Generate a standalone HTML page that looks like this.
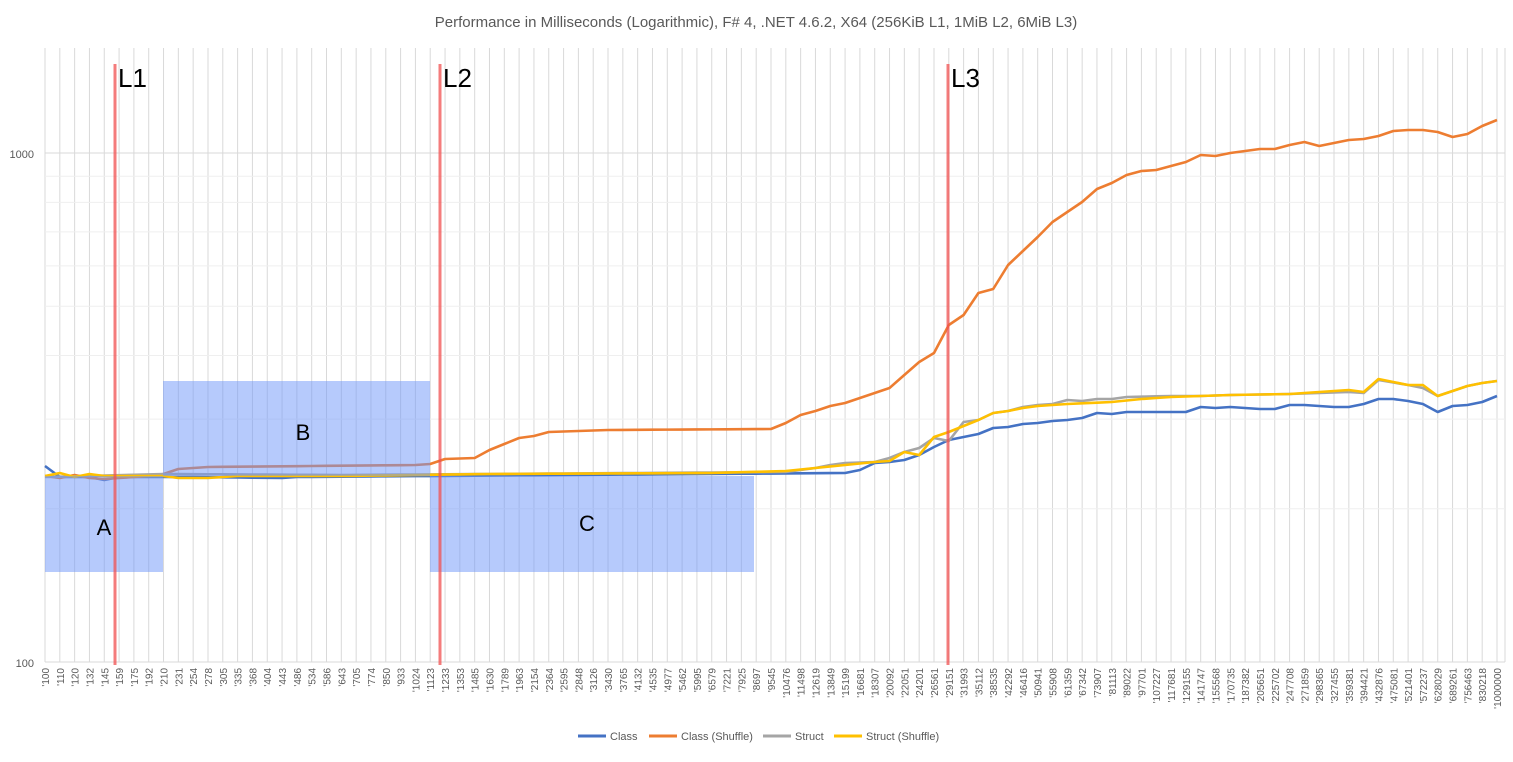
<!DOCTYPE html>
<html><head><meta charset="utf-8"><style>
body{margin:0;background:#fff;width:1513px;height:757px;overflow:hidden;font-family:"Liberation Sans",sans-serif}
</style></head><body>
<svg id="s" width="1513" height="757" xmlns="http://www.w3.org/2000/svg" font-family="Liberation Sans, sans-serif">
<rect x="0" y="0" width="1513" height="757" fill="#fff"/>
<text x="756" y="27" text-anchor="middle" font-size="15" fill="#595959">Performance in Milliseconds (Logarithmic), F# 4, .NET 4.6.2, X64 (256KiB L1, 1MiB L2, 6MiB L3)</text>
<g id="grid"></g><g id="series"></g><g id="ann"></g><g id="lab"></g>
<g font-size="11" fill="#595959">
<line x1="578" y1="736" x2="606" y2="736" stroke="#4472c4" stroke-width="3"/><text x="610" y="740">Class</text>
<line x1="649" y1="736" x2="677" y2="736" stroke="#ed7d31" stroke-width="3"/><text x="681" y="740">Class (Shuffle)</text>
<line x1="763" y1="736" x2="791" y2="736" stroke="#a5a5a5" stroke-width="3"/><text x="795" y="740">Struct</text>
<line x1="834" y1="736" x2="862" y2="736" stroke="#ffc000" stroke-width="3"/><text x="866" y="740">Struct (Shuffle)</text>
</g>
</svg>
<script>
var L="100,110,120,132,145,159,175,192,210,231,254,278,305,335,368,404,443,486,534,586,643,705,774,850,933,1024,1123,1233,1353,1485,1630,1789,1963,2154,2364,2595,2848,3126,3430,3765,4132,4535,4977,5462,5995,6579,7221,7925,8697,9545,10476,11498,12619,13849,15199,16681,18307,20092,22051,24201,26561,29151,31993,35112,38535,42292,46416,50941,55908,61359,67342,73907,81113,89022,97701,107227,117681,129155,141747,155568,170735,187382,205651,225702,247708,271859,298365,327455,359381,394421,432876,475081,521401,572237,628029,689261,756463,830218,1000000".split(",");
var N=L.length,x0=45,dx=(1497-45)/(N-1);
function X(i){return x0+i*dx}
function Y(v){return 662-Math.log10(v/100)*509}
var g="",ns="";
for(var i=0;i<N;i++){g+='<line x1="'+X(i)+'" y1="48" x2="'+X(i)+'" y2="662" stroke="#d9d9d9" stroke-width="1"/>';}
g+='<line x1="1505" y1="48" x2="1505" y2="662" stroke="#d9d9d9"/>';
[200,300,400,500,600,700,800,900,2000].forEach(function(v){var y=Y(v);if(y>48)g+='<line x1="45" y1="'+y+'" x2="1505" y2="'+y+'" stroke="#efefef"/>';});
[100,1000].forEach(function(v){g+='<line x1="45" y1="'+Y(v)+'" x2="1505" y2="'+Y(v)+'" stroke="#d9d9d9"/>';});
document.getElementById("grid").innerHTML=g;
function fill(pts){var a=[];for(var k=0;k<pts.length-1;k++){var i0=pts[k][0],y0=pts[k][1],i1=pts[k+1][0],y1=pts[k+1][1];for(var i=i0;i<i1;i++)a[i]=y0+(y1-y0)*(i-i0)/(i1-i0);}a[pts[pts.length-1][0]]=pts[pts.length-1][1];return a;}
var orange=fill([[0,476],[1,478],[2,475],[3,478],[4,479],[7,476],[8,474],[9,469],[11,467],[25,465],[26,464],[27,459],[29,458],[30,450],[31,444],[32,438],[33,436],[34,432],[38,430],[49,429],[50,423],[51,415],[52,411],[53,406],[54,403],[55,398],[56,393],[57,388],[58,375],[59,362],[60,353],[61,325],[62,315],[63,293],[64,289],[65,265],[66,251],[67,237],[68,222],[69,212],[70,202],[71,189],[72,183],[73,175],[74,171],[75,170],[76,166],[77,162],[78,155],[79,156],[80,153],[81,151],[82,149],[83,149],[84,145],[85,142],[86,146],[87,143],[88,140],[89,139],[90,136],[91,131],[92,130],[93,130],[94,132],[95,137],[96,134],[97,126],[98,120]]);
var blue=fill([[0,466],[1,477],[3,477],[4,480],[5,477],[10,477],[16,478],[17,477],[54,473],[55,470],[56,463],[57,462],[58,460],[59,455],[60,447],[61,440],[62,437],[63,434],[64,428],[65,427],[66,424],[67,423],[68,421],[69,420],[70,418],[71,413],[72,414],[73,412],[77,412],[78,407],[79,408],[80,407],[81,408],[82,409],[83,409],[84,405],[85,405],[86,406],[87,407],[88,407],[89,404],[90,399],[91,399],[92,401],[93,404],[94,412],[95,406],[96,405],[97,402],[98,396]]);
var gray=fill([[0,477],[3,476],[8,474],[20,475],[50,472],[52,468],[53,465],[54,463],[56,462],[57,458],[58,452],[59,448],[60,438],[61,441],[62,422],[63,420],[64,413],[65,411],[66,407],[67,405],[68,404],[69,400],[70,401],[71,399],[72,399],[73,397],[76,396],[78,396],[80,395],[84,394],[88,392],[89,393],[90,380],[92,385],[93,388],[94,396],[95,391],[96,386],[97,383],[98,381]]);
var yellow=fill([[0,476],[1,473],[2,477],[3,474],[4,476],[7,476],[8,476],[9,478],[11,478],[13,476],[20,476],[30,474],[45,473],[50,471],[52,468],[54,465],[56,462],[57,461],[58,452],[59,455],[60,437],[61,432],[62,426],[63,420],[64,413],[65,411],[66,408],[67,406],[68,405],[69,404],[72,402],[74,399],[76,397],[80,395],[84,394],[88,390],[89,392],[90,379],[91,382],[92,385],[93,385],[94,396],[95,391],[96,386],[97,383],[98,381]]);
function path(a,c){var d="";for(var i=0;i<N;i++)d+=(i?"L":"M")+X(i).toFixed(1)+" "+a[i];return '<path d="'+d+'" fill="none" stroke="'+c+'" stroke-width="2.6" stroke-linejoin="round"/>';}
document.getElementById("series").innerHTML=path(blue,"#4472c4")+path(orange,"#ed7d31")+path(gray,"#a5a5a5")+path(yellow,"#ffc000");
var an="";
var rc="rgba(110,150,250,0.5)";
an+='<rect x="45" y="476" width="118" height="96" fill="'+rc+'"/>';
an+='<rect x="163" y="381" width="267" height="95" fill="'+rc+'"/>';
an+='<rect x="430" y="476" width="324" height="96" fill="'+rc+'"/>';
[[115,"L1"],[440,"L2"],[948,"L3"]].forEach(function(p){an+='<line x1="'+p[0]+'" y1="64" x2="'+p[0]+'" y2="665" stroke="rgba(240,80,80,0.75)" stroke-width="3"/><text x="'+(p[0]+3)+'" y="87" font-size="26" fill="#000">'+p[1]+'</text>';});
an+='<text x="104" y="535" font-size="22" text-anchor="middle">A</text><text x="303" y="440" font-size="22" text-anchor="middle">B</text><text x="587" y="531" font-size="22" text-anchor="middle">C</text>';
an+='<text x="34" y="158" font-size="11" fill="#595959" text-anchor="end">1000</text><text x="34" y="667" font-size="11" fill="#595959" text-anchor="end">100</text>';
document.getElementById("ann").innerHTML=an;
var lb="";
for(var i=0;i<N;i++){var x=X(i)+4;lb+='<text transform="translate('+x+',668) rotate(-90)" text-anchor="end" font-size="10" fill="#595959">\''+L[i]+'</text>';}
document.getElementById("lab").innerHTML=lb;
</script>
</body></html>
